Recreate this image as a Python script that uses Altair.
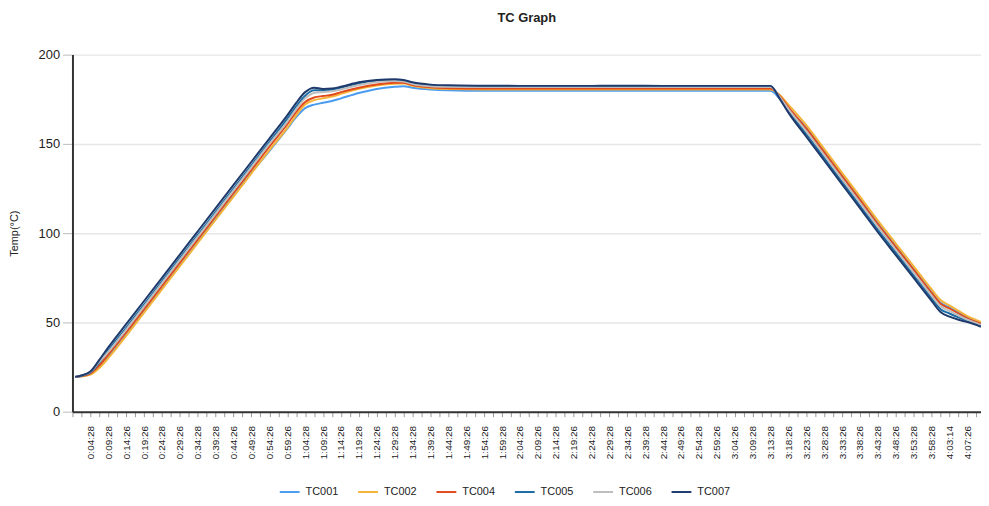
import json
import altair as alt
import pandas as pd

# x tick labels (one per labelled tick, evenly spaced categories)
labels = ["0:04:28", "0:09:28", "0:14:26", "0:19:26", "0:24:28", "0:29:26", "0:34:28", "0:39:28",
          "0:44:26", "0:49:28", "0:54:26", "0:59:26", "1:04:28", "1:09:26", "1:14:26", "1:19:28",
          "1:24:26", "1:29:28", "1:34:28", "1:39:26", "1:44:28", "1:49:26", "1:54:26", "1:59:28",
          "2:04:26", "2:09:26", "2:14:28", "2:19:26", "2:24:28", "2:29:28", "2:34:26", "2:39:28",
          "2:44:28", "2:49:26", "2:54:28", "2:59:26", "3:04:26", "3:09:28", "3:13:28", "3:18:26",
          "3:23:26", "3:28:28", "3:33:26", "3:38:26", "3:43:28", "3:48:26", "3:53:28", "3:58:28",
          "4:03:14", "4:07:26"]

# sample positions along the (label-index) x axis
positions = [-0.85, -0.5, 0, 0.5, 1,
             2, 3, 4, 5, 6, 7, 8, 9, 10, 11,
             11.5, 12, 12.5, 13, 13.5, 14,
             15, 16, 17, 17.5, 18, 19, 20,
             22, 24, 26, 28, 30, 32, 34, 36, 37, 38,
             38.5, 39, 40, 41, 42, 43, 44, 45, 46, 47,
             47.5, 48, 48.5, 49, 49.76]

TC001 = [19.5, 19.9, 21.2, 25.5, 31,
         43, 56, 69, 82, 95, 108, 121, 134, 146, 158.5,
         165, 170, 172, 173, 174, 175.5,
         178.5, 180.8, 182, 182.3, 181.5, 180.5, 180,
         179.7, 179.7, 179.7, 179.7, 179.7, 179.7, 179.7, 179.7, 179.7, 179.7,
         175.5, 170, 159, 145.7, 132.3, 119, 105.5, 92.7, 79.9, 67,
         61, 58.3, 55.5, 52.7, 49.6]
TC002 = [19.5, 19.8, 20.8, 24.5, 30,
         42.5, 55.5, 68.5, 81.5, 94.5, 107.5, 120.5, 133.5, 146.5, 159,
         166, 172, 174.5, 175.5, 176.5, 178,
         180.8, 182.7, 183.7, 183.8, 182.5, 181.2, 180.7,
         180.5, 180.5, 180.5, 180.5, 180.5, 180.5, 180.5, 180.5, 180.5, 180.5,
         177.5, 172, 160.5, 147.2, 133.8, 120.5, 107, 94.2, 81.4, 68.6,
         62.5, 59.5, 56.5, 53.5, 50.2]
TC004 = [19.5, 20, 21.5, 26, 32,
         44.5, 57.5, 70.5, 83.5, 96.5, 109.5, 122.5, 135.5, 148.5, 161,
         168, 173.5, 176, 176.8, 177.5, 179,
         181.5, 183.3, 184.2, 184.2, 183, 181.7, 181.2,
         181, 181, 181, 181, 181, 181, 181, 181, 181, 181,
         177, 170.5, 158.5, 145.2, 131.8, 118.5, 105, 92.2, 79.4, 66.5,
         60.5, 57.8, 55, 52.3, 49.2]
TC005 = [19.5, 20.2, 22, 27.5, 34.3,
         47, 60, 73, 86, 99, 112, 125, 138, 151, 164,
         171, 177, 180, 180, 180.5, 181.5,
         184, 185.3, 185.6, 185.2, 183.8, 182.7, 182.3,
         182.2, 182.2, 182.2, 182.2, 182.2, 182.2, 182.2, 182.2, 182.2, 182.2,
         176, 168.5, 155.5, 142.2, 128.8, 115.5, 102, 89.2, 76.4, 63.6,
         57.4, 55, 52.8, 50.9, 48.1]
TC006 = [19.5, 20.3, 22.2, 28, 33.5,
         46, 59, 72, 85, 98, 111, 124, 137, 150, 162.5,
         169.5, 175.5, 178.5, 179, 179.5, 180.5,
         183, 184.7, 185.2, 185, 183.5, 182.3, 182,
         181.8, 181.8, 181.8, 181.8, 181.8, 181.8, 181.8, 181.8, 181.8, 181.8,
         176.5, 169.5, 157, 143.7, 130.3, 117, 103.5, 90.7, 77.9, 65,
         59, 56.5, 54, 51.5, 48.6]
TC007 = [19.5, 20.3, 22.5, 29, 36,
         49, 62, 75, 88, 101, 114, 127, 140, 153, 166,
         173, 179, 181.5, 180.8, 181, 182,
         184.5, 185.8, 186.2, 185.8, 184.5, 183.2, 182.8,
         182.6, 182.5, 182.5, 182.5, 182.6, 182.5, 182.5, 182.5, 182.5, 182.5,
         175.5, 167.5, 154, 140.7, 127.3, 114, 100.5, 87.7, 74.9, 62.1,
         55.8, 53.2, 51.5, 50.2, 47.6]

series_names = ["TC001", "TC002", "TC004", "TC005", "TC006", "TC007"]
series_vals = [TC001, TC002, TC004, TC005, TC006, TC007]
colors = ["#4a9cf0", "#f5b437", "#e24a1c", "#1c6ca4", "#bdbdbd", "#1e3a6c"]

rows = []
for name, vals in zip(series_names, series_vals):
    for p, v in zip(positions, vals):
        rows.append({"pos": p, "temp": v, "series": name})
df = pd.DataFrame(rows)

tick_vals = [-1 + 0.5 * k for k in range(102)]
label_expr = ("datum.value >= 0 && datum.value % 1 == 0 ? "
              + json.dumps(labels) + "[datum.value] : ''")

FONT = "Arial"

chart = alt.Chart(df).mark_line(strokeWidth=2, interpolate="monotone", clip=True).encode(
    x=alt.X("pos:Q",
            scale=alt.Scale(domain=[-1, 49.76], nice=False, zero=False),
            axis=alt.Axis(values=tick_vals, labelExpr=label_expr, labelAngle=-90,
                          labelFontSize=10, labelColor="#222222", labelOverlap=False,
                          labelPadding=9, tickSize=5, tickColor="#999999",
                          domainColor="#333333", domainWidth=2, grid=False, title=None,
                          labelFont=FONT)),
    y=alt.Y("temp:Q",
            scale=alt.Scale(domain=[0, 200], nice=False),
            axis=alt.Axis(values=[0, 50, 100, 150, 200], labelFontSize=13,
                          labelColor="#222222", labelPadding=3, tickSize=10,
                          tickColor="#bbbbbb", domainColor="#333333", domainWidth=2,
                          grid=True, gridColor="#e6e6e6", gridWidth=1.5,
                          title="Temp(°C)", titleFontSize=11, titleFontWeight="normal",
                          titleColor="#222222", titleX=-58, titleY=180, titleAngle=270,
                          titleAlign="center", titleBaseline="middle",
                          labelFont=FONT, titleFont=FONT)),
    color=alt.Color("series:N",
                    scale=alt.Scale(domain=series_names, range=colors),
                    legend=alt.Legend(title=None, orient="none", legendX=208, legendY=430,
                                      direction="horizontal", columns=6, symbolType="stroke",
                                      symbolSize=400, symbolStrokeWidth=2, labelFontSize=11,
                                      labelOffset=5, columnPadding=15, labelColor="#222222",
                                      labelFont=FONT)),
).properties(
    width=916,
    height=360,
    autosize=alt.AutoSizeParams(type="none"),
    padding={"left": 65, "top": 45, "right": 0, "bottom": 84},
    title=alt.TitleParams("TC Graph", fontSize=13, fontWeight="bold", font=FONT,
                          color="#222222", anchor="middle", offset=24),
).configure_view(stroke=None)

chart.save("out.html", embed_options={"renderer": "svg", "actions": False})
